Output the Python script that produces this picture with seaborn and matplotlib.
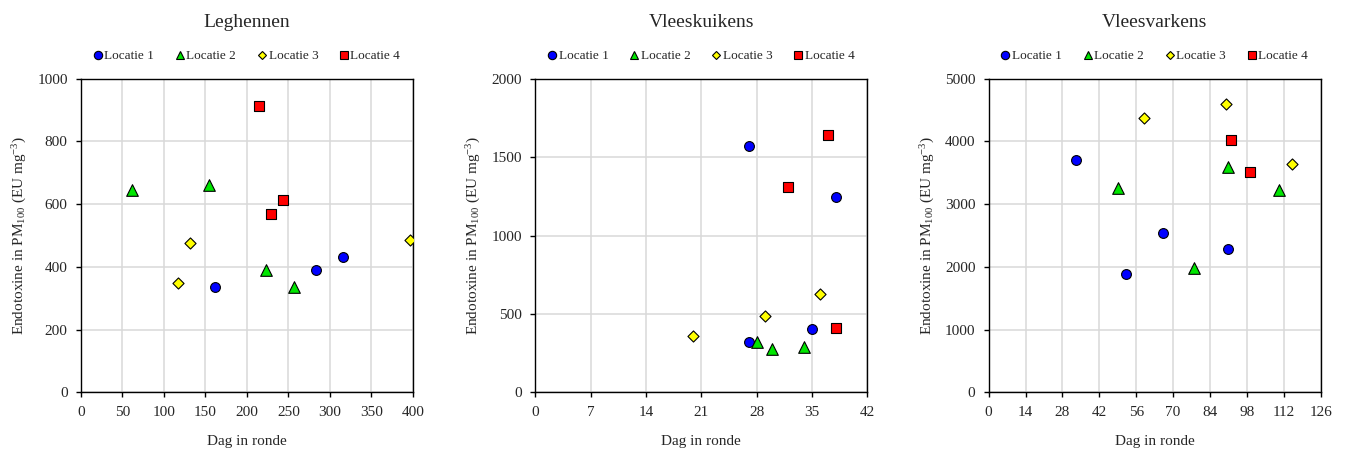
import numpy as np
import pandas as pd
import matplotlib
matplotlib.use("Agg")
import matplotlib.pyplot as plt
from matplotlib.lines import Line2D
import seaborn as sns

# ---- data ----
titles = ["Leghennen", "Vleeskuikens", "Vleesvarkens"]
locations = ["Locatie 1", "Locatie 2", "Locatie 3", "Locatie 4"]

# Leghennen
leg_loc1_x = [162, 283, 316]
leg_loc1_y = [335, 390, 432]
leg_loc2_x = [61, 154, 223, 257]
leg_loc2_y = [645, 660, 390, 337]
leg_loc3_x = [117, 131, 396]
leg_loc3_y = [348, 477, 485]
leg_loc4_x = [215, 229, 243]
leg_loc4_y = [914, 567, 614]

# Vleeskuikens
vk_loc1_x = [27, 27, 35, 38]
vk_loc1_y = [1570, 323, 401, 1243]
vk_loc2_x = [28, 30, 34]
vk_loc2_y = [319, 274, 291]
vk_loc3_x = [20, 29, 36]
vk_loc3_y = [359, 487, 629]
vk_loc4_x = [32, 37, 38]
vk_loc4_y = [1307, 1638, 412]

# Vleesvarkens
vv_loc1_x = [33, 52, 66, 91]
vv_loc1_y = [3703, 1886, 2545, 2285]
vv_loc2_x = [49, 78, 91, 110]
vv_loc2_y = [3252, 1977, 3597, 3225]
vv_loc3_x = [59, 90, 115]
vv_loc3_y = [4373, 4596, 3634]
vv_loc4_x = [92, 99]
vv_loc4_y = [4017, 3507]

x_ticks = [np.arange(0, 401, 50), np.arange(0, 43, 7), np.arange(0, 127, 14)]
y_ticks = [np.arange(0, 1001, 200), np.arange(0, 2001, 500), np.arange(0, 5001, 1000)]

panels = [
    [(leg_loc1_x, leg_loc1_y), (leg_loc2_x, leg_loc2_y), (leg_loc3_x, leg_loc3_y), (leg_loc4_x, leg_loc4_y)],
    [(vk_loc1_x, vk_loc1_y), (vk_loc2_x, vk_loc2_y), (vk_loc3_x, vk_loc3_y), (vk_loc4_x, vk_loc4_y)],
    [(vv_loc1_x, vv_loc1_y), (vv_loc2_x, vv_loc2_y), (vv_loc3_x, vv_loc3_y), (vv_loc4_x, vv_loc4_y)],
]

colors = {"Locatie 1": "#0000FF", "Locatie 2": "#00E600", "Locatie 3": "#FFFF00", "Locatie 4": "#FF0000"}
markers = {"Locatie 1": "o", "Locatie 2": "^", "Locatie 3": "D", "Locatie 4": "s"}
sizes = {"Locatie 1": 50, "Locatie 2": 70, "Locatie 3": 32, "Locatie 4": 48}
leg_ms = {"Locatie 1": 6, "Locatie 2": 6, "Locatie 3": 4, "Locatie 4": 6}

sns.set_style("white")
plt.rcParams["font.family"] = ["Liberation Serif", "DejaVu Serif"]
plt.rcParams["mathtext.fontset"] = "custom"
plt.rcParams["mathtext.rm"] = "Liberation Serif"
plt.rcParams["mathtext.it"] = "Liberation Serif:italic"

fig = plt.figure(figsize=(13.49, 4.5), dpi=100)
lefts = [0.0600, 0.3968, 0.7329]
for i, left in enumerate(lefts):
    ax = fig.add_axes([left, 0.1282, 0.2461, 0.6969])
    rows = []
    for loc, (xs, ys) in zip(locations, panels[i]):
        for x, y in zip(xs, ys):
            rows.append({"x": x, "y": y, "loc": loc})
    df = pd.DataFrame(rows)
    for loc in locations:
        sub = df[df["loc"] == loc]
        sns.scatterplot(data=sub, x="x", y="y", color=colors[loc], marker=markers[loc],
                        s=sizes[loc], edgecolor="black", linewidth=0.8, ax=ax, legend=False, zorder=3)
    ax.set_xlim(x_ticks[i][0], x_ticks[i][-1])
    ax.set_ylim(y_ticks[i][0], y_ticks[i][-1])
    ax.set_xticks(x_ticks[i])
    ax.set_yticks(y_ticks[i])
    ax.grid(True, color="#d9d9d9", linewidth=1.1)
    ax.set_axisbelow(True)
    for sp in ax.spines.values():
        sp.set_color("black")
        sp.set_linewidth(1.0)
    ax.tick_params(axis="both", direction="out", length=3.5, width=1.0, color="black",
                   labelsize=11, pad=6, bottom=True, left=True)
    ax.set_xlabel("Dag in ronde", fontsize=11, labelpad=12)
    ax.set_ylabel(r"Endotoxine in PM$_{\mathregular{100}}$ (EU mg$^{\mathregular{-3}}$)", fontsize=11, labelpad=6)
    ax.set_title(titles[i], fontsize=14, pad=37.5)
    handles = [Line2D([0], [0], marker=markers[l], color="none", markerfacecolor=colors[l],
                      markeredgecolor="black", markeredgewidth=0.8, markersize=leg_ms[l], label=l)
               for l in locations]
    ax.legend(handles=handles, loc="center", bbox_to_anchor=(0.5, 1.072), ncol=4, frameon=False,
              fontsize=9.5, handlelength=0.6, handletextpad=0.2, columnspacing=1.65, borderaxespad=0)

fig.savefig("out.png", dpi=100)
